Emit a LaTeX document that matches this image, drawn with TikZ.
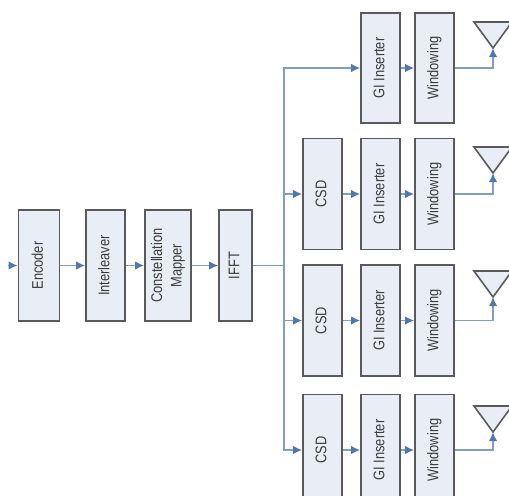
\documentclass[tikz,border=0pt]{standalone}
\usepackage{fontspec}
\setmainfont{Liberation Sans}
\usetikzlibrary{arrows.meta}
\definecolor{boxfill}{RGB}{232,237,246}
\definecolor{boxline}{RGB}{90,90,90}
\definecolor{sigline}{RGB}{130,158,192}
\definecolor{sigtip}{RGB}{79,120,175}
\definecolor{busline}{RGB}{120,150,205}
\definecolor{textgray}{RGB}{60,60,60}
\tikzset{
    %Define blocks and signal lines
    block/.style={draw=boxline, fill=boxfill, line width=0.9pt, inner sep=0pt, text=textgray, font=\fontsize{8.8}{11}\selectfont},
    sig/.style={draw=sigline, line width=1pt, -{Latex[length=0.18cm,width=0.17cm,color=sigtip]}},
    bus/.style={draw=busline, line width=1pt}
}
\def\tBlock#1#2#3#4#5#6 {
    \node[block, minimum width=#2*0.02cm, minimum height=#3*0.02cm] (#1) at (#4,#5) {\rotatebox{90}{\scalebox{0.83}[1]{\begin{tabular}{@{}c@{}}#6\end{tabular}}}};
}
\def\tAnt#1#2 {
    \coordinate (#1) at (493,#2);
    \draw[draw=boxline, fill=boxfill, line width=0.9pt] (#1) -- ++(-19,-26) -- ++(38,0) -- cycle;
}
\begin{document}
\begin{tikzpicture}[x=0.02cm,y=-0.02cm]
    \useasboundingbox (0,0) rectangle (509,495);
    \clip (0,0) rectangle (509,495);
    \fill[white] (0,0) rectangle (509,495);

    \coordinate (in) at (8,265.5);
    \tBlock{enc}{41}{111}{39}{265.5}{Encoder}
    \tBlock{ilv}{39}{111}{105.5}{265.5}{Interleaver}
    \tBlock{map}{46}{111}{168}{265.5}{Constellation\\Mapper}
    \tBlock{ifft}{33}{111}{235.5}{265.5}{IFFT}
    \draw[sig] (in) -- (enc);
    \draw[sig] (enc) -- (ilv);
    \draw[sig] (ilv) -- (map);
    \draw[sig] (map) -- (ifft);

    \coordinate (hub) at (284,265.5);
    \draw[bus] (ifft) -- (hub);

    % first branch has no CSD
    \tBlock{gi1}{39}{110}{380.5}{68}{GI Inserter}
    \tBlock{win1}{39}{110}{434.5}{68}{Windowing}
    \tAnt{ant1}{48}
    \draw[sig] (hub) |- (gi1);
    \draw[sig] (gi1) -- (win1);
    \draw[sig] (win1) -| (ant1);

    \tBlock{csd2}{39}{111}{322.5}{194}{CSD}
    \tBlock{gi2}{39}{111}{380.5}{194}{GI Inserter}
    \tBlock{win2}{39}{111}{434.5}{194}{Windowing}
    \tAnt{ant2}{173}
    \draw[sig] (hub) |- (csd2);
    \draw[sig] (csd2) -- (gi2);
    \draw[sig] (gi2) -- (win2);
    \draw[sig] (win2) -| (ant2);

    \tBlock{csd3}{39}{111}{322.5}{320.5}{CSD}
    \tBlock{gi3}{39}{111}{380.5}{320.5}{GI Inserter}
    \tBlock{win3}{39}{111}{434.5}{320.5}{Windowing}
    \tAnt{ant3}{297}
    \draw[sig] (hub) |- (csd3);
    \draw[sig] (csd3) -- (gi3);
    \draw[sig] (gi3) -- (win3);
    \draw[sig] (win3) -| (ant3);

    \tBlock{csd4}{39}{111}{322.5}{450}{CSD}
    \tBlock{gi4}{39}{111}{380.5}{450}{GI Inserter}
    \tBlock{win4}{39}{111}{434.5}{450}{Windowing}
    \tAnt{ant4}{432}
    \draw[sig] (hub) |- (csd4);
    \draw[sig] (csd4) -- (gi4);
    \draw[sig] (gi4) -- (win4);
    \draw[sig] (win4) -| (ant4);
\end{tikzpicture}
\end{document}
